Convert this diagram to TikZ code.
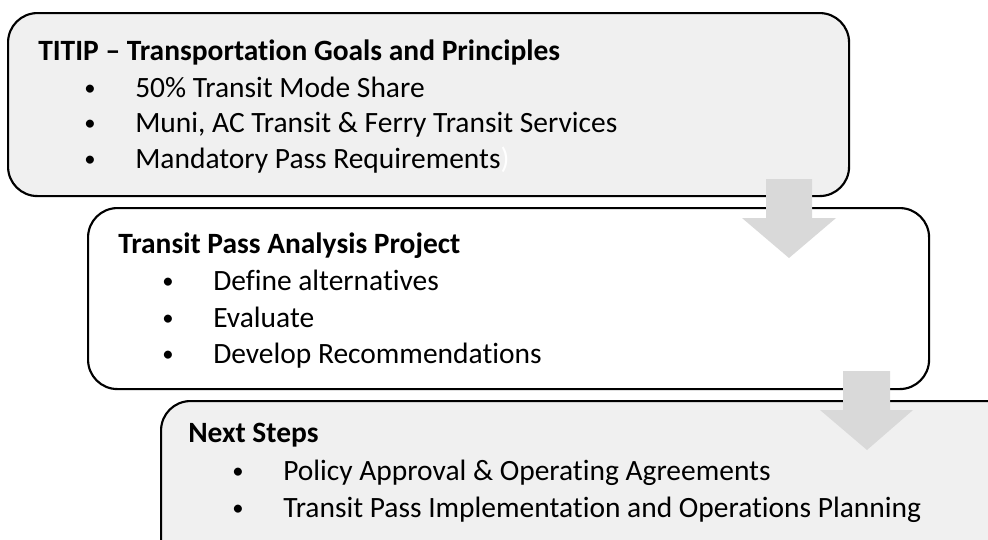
\documentclass[tikz,border=0pt]{standalone}
\usepackage{fontspec}
\setmainfont[Ligatures={NoCommon}]{Carlito}
\begin{document}
\begin{tikzpicture}[x=0.75pt,y=-0.75pt,
  stagebox/.style={draw=black,line width=1.6pt,rounded corners=22pt,inner sep=0pt,anchor=north west},
  greybox/.style={stagebox,fill=boxgrey},
  whitebox/.style={stagebox,fill=white},
  head/.style={anchor=base west,inner sep=0pt,font=\fontsize{22.1}{26}\selectfont\bfseries},
  item/.style={anchor=base west,inner sep=0pt,font=\fontsize{22.1}{26}\selectfont},
  dot/.style={anchor=base,inner sep=0pt,font=\fontsize{17}{20}\selectfont},
  flow/.style={fill=arrowgrey,draw=none}]
\definecolor{boxgrey}{HTML}{F0F0F0}
\definecolor{arrowgrey}{HTML}{D9D9D9}
\clip (0,0) rectangle (988,539);

% stage boxes
\node[greybox,minimum width=841*0.75pt,minimum height=183*0.75pt] (goals) at (7,12) {};
\node[whitebox,minimum width=841*0.75pt,minimum height=181*0.75pt] (analysis) at (87,207) {};
\node[greybox,minimum width=858*0.75pt,minimum height=190*0.75pt] (next) at (160,400) {};

% block arrows between stages
\draw[flow] (766,179) -- (812,179) -- (812,218) -- (836,218) -- (789,258)
  -- (742,218) -- (766,218) -- cycle;
\draw[flow] (843,371) -- (890,371) -- (890,410) -- (913,410) -- (867,450)
  -- (820,410) -- (843,410) -- cycle;

% first stage
\node[head] (t1) at (38,60) {TITIP – Transportation Goals and Principles};
\node[dot] (d11) at (90,95) {•};
\node[item] (i11) at (135,97) {50\% Transit Mode Share};
\node[dot] (d12) at (90,130) {•};
\node[item] (i12) at (135,132) {Muni, AC Transit \& Ferry Transit Services};
\node[dot] (d13) at (90,166) {•};
\node[item] (i13) at (135,168) {Mandatory Pass Requirements\textcolor{white}{)}};

% second stage
\node[head] (t2) at (118,253) {Transit Pass Analysis Project};
\node[dot] (d21) at (168,288) {•};
\node[item] (i21) at (213,290) {Define alternatives};
\node[dot] (d22) at (168,325) {•};
\node[item] (i22) at (213,327) {Evaluate};
\node[dot] (d23) at (168,361) {•};
\node[item] (i23) at (213,363) {Develop Recommendations};

% third stage
\node[head] (t3) at (188,442) {Next Steps};
\node[dot] (d31) at (238,478) {•};
\node[item] (i31) at (283,480) {Policy Approval \& Operating Agreements};
\node[dot] (d32) at (238,515) {•};
\node[item] (i32) at (283,517) {Transit Pass Implementation and Operations Planning};
\end{tikzpicture}
\end{document}
